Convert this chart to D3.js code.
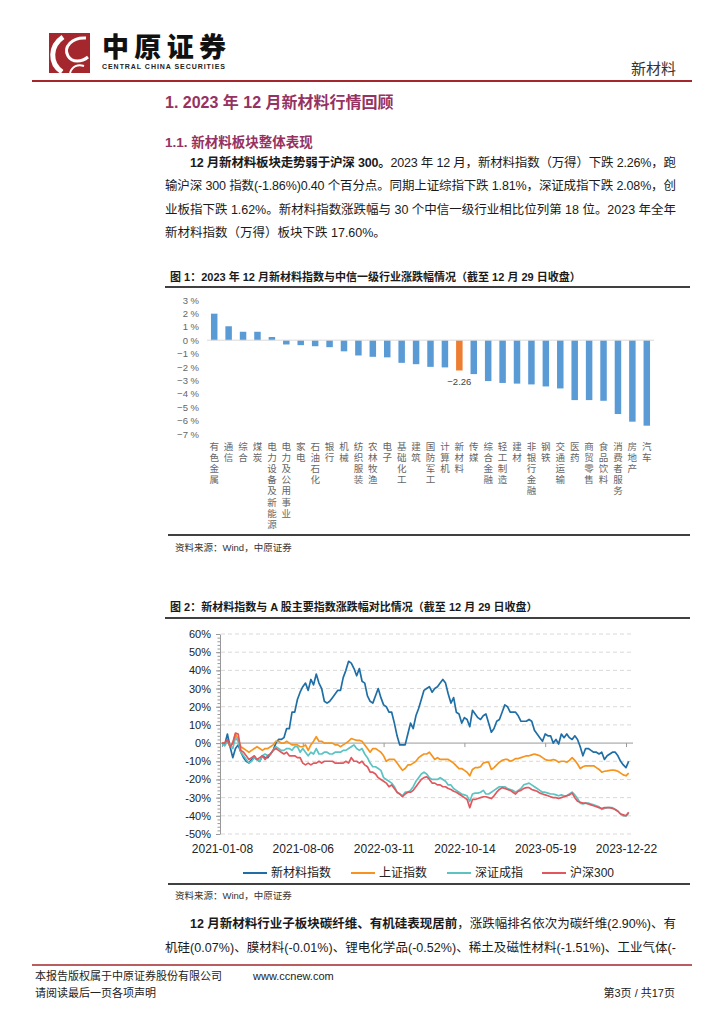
<!DOCTYPE html>
<html>
<head>
<meta charset="utf-8">
<script src="https://cdn.jsdelivr.net/npm/d3@7"></script>
<style>
  body { margin: 0; background: #fff; }
  svg { display: block; }
</style>
</head>
<body>
<svg id="page" width="724" height="1024"></svg>
<script>
// ---- figure 1 data: December change by CITIC level-1 industry (%)
const industries = ["有色金属","通信","综合","煤炭","电力设备及新能源","电力及公用事业","家电","石油石化","银行","机械",
  "纺织服装","农林牧渔","电子","基础化工","建筑","国防军工","计算机","新材料","传媒","综合金融",
  "轻工制造","建材","非银行金融","钢铁","交通运输","医药","商贸零售","食品饮料","消费者服务","房地产","汽车"];
const industryChg = [1.98,1.04,0.63,0.63,0.24,-0.32,-0.37,-0.45,-0.52,-0.83,
  -1.14,-1.24,-1.28,-1.69,-1.79,-1.99,-2.03,-2.26,-2.53,-3.05,
  -3.19,-3.24,-3.30,-3.45,-3.60,-4.47,-4.47,-4.52,-5.51,-6.08,-6.38];
const highlight = "新材料";
const barTicks = [3,2,1,0,-1,-2,-3,-4,-5,-6,-7];

// ---- figure 2 data: cumulative change since 2021-01-08, weekly (%)
const dateTicks = ["2021-01-08","2021-08-06","2022-03-11","2022-10-14","2023-05-19","2023-12-22"];
const dateTickIdx = [0,30,60,90,120,150];
const pctTicks = [60,50,40,30,20,10,0,-10,-20,-30,-40,-50];
const seriesNames = ["新材料指数","上证指数","深证成指","沪深300"];

const newMat = [0,-1,5,-2,-8,-3,-1,-5,-8,-10,
  -11,-9,-8,-9,-10,-7,-8,-8,-6,-4,
  0,2,2,3,8,8,17,17,24,28,
  31,33,29,35,32,38,33,30,23,22,
  23,25,27,29,29,36,40,45,44,41,
  37,41,34,33,26,23,22,26,30,25,
  21,20,17,17,11,4,-1,-1,-1,5,
  11,8,15,19,24,29,30,31,28,30,
  31,33,35,33,27,22,25,17,16,11,
  14,13,9,18,16,14,13,15,16,11,
  6,8,12,13,17,21,20,17,17,17,
  15,12,12,12,13,12,7,5,3,1,
  5,4,4,0,2,-0.5,5,3,5,3,
  2,4,2,-2,-7,-3,-3,-4,-5,-5,
  -6,-5,-9,-7,-6,-5,-5,-7,-10,-12,
  -13.5,-10];
const shComp = [0,0,1,-2,0,5,2,-2,-3,-4,
  -5,-4,-3,-2,-3,-4,-3,-3,-2,-1,
  1,1,0,0,1,0,-1,-1,-1,-2,
  -2,-1,-4,-1,1,3.5,1,1,0,0,
  0,0,-1,-1,-2,-1,0,1,2.5,2,
  1.5,1.5,1,-1,-3,-5,-3,-3,-4,-5,
  -7,-10,-9,-9,-9,-11,-13,-15,-14,-12,
  -12,-11,-10,-8,-7,-6,-6,-5,-7,-9,
  -8,-9,-9,-9,-9,-10,-11,-12.5,-14,-14,
  -15,-16,-18,-14.5,-13.5,-13.5,-13,-11,-10.5,-10.5,
  -14.5,-13.5,-12,-10.5,-9.5,-9,-9,-10,-9.5,-8.5,
  -8.5,-8,-7.5,-7,-7,-6.5,-6,-6.5,-7,-8,
  -9,-9.5,-9.5,-9,-9.5,-10.5,-10,-10,-10.5,-9.5,
  -8,-9.5,-11.5,-14,-13,-12.5,-12.5,-12.5,-12.5,-13.5,
  -14.5,-16,-15.5,-15.3,-15,-14.8,-15,-15.5,-16.5,-17.5,
  -18,-16.5];
const szComp = [0,-1.5,1,-1,-3,3,1,-5,-7,-9,
  -11,-10,-8,-9,-10,-7,-6,-7,-6,-4,
  -2,-3,-4,-4,-3,-3,-4,-2,-2,-5,
  -3,-5,-7,-5,-6,-3,-6,-6,-5,-5,
  -6,-6,-5,-5,-5,-4,-4,-3,-2,-1,
  -3,-4,-3,-6,-8,-11,-13,-13,-14,-15,
  -19,-20,-21,-22,-24,-27,-28,-29,-27,-27,
  -26,-24,-21,-19,-17,-16,-17,-19,-20,-20,
  -20,-19,-20,-21,-23,-23,-25,-26,-27,-28,
  -28.5,-29,-32,-28,-27.5,-27.5,-27,-26,-28,-28,
  -27,-26,-25,-24,-24,-24,-25,-25.5,-26,-27,
  -26,-25,-23,-22.5,-22,-23,-24,-25,-26,-27,
  -27,-27.5,-28,-28,-28.5,-29,-28.5,-29,-29,-28,
  -27,-28.5,-30.5,-33,-33.5,-33,-33,-33.5,-34,-34.5,
  -35,-36.5,-36,-35.5,-35.5,-35.5,-36.5,-37.5,-39,-40,
  -40,-38.5];
const hs300 = [0,0,2,-2,0,5.5,5,-4,-5,-7,
  -9,-8,-7,-9,-8,-7,-9,-7,-6,-4,
  -3,-4,-5,-6,-5,-7,-7,-7,-8,-8,
  -11,-12,-11,-12,-11,-11,-10,-11,-10,-10,
  -10,-10,-11,-11,-11,-11,-10,-11,-8,-10,
  -10,-11,-10,-12,-13,-16,-16,-17,-19,-20,
  -21,-22,-24,-23,-25,-27,-28,-29.5,-28,-27,
  -27,-26,-24,-22,-20,-19,-18.5,-20,-22,-22,
  -23,-23,-24,-24,-25,-25.5,-26.5,-27,-28,-29,
  -30,-31,-35.5,-31,-31,-30.5,-30,-29.5,-29.5,-30,
  -30.5,-29,-27,-25.5,-24.5,-25,-25.5,-26,-27,-28,
  -26.5,-26,-25,-24.5,-24.5,-25.5,-26,-26.5,-27.5,-28,
  -28.5,-29,-29.5,-30,-30,-30.5,-30,-29.5,-29,-28.5,
  -27.5,-30,-32,-32.5,-33,-33,-33.5,-34,-34.5,-35,
  -35.5,-36,-35.5,-35.5,-35.5,-36,-36.5,-37.5,-39,-39.5,
  -40,-38];

const seriesData = [newMat, shComp, szComp, hs300];
const seriesColors = ["#1f6fa6", "#f7941d", "#5cc3c3", "#e0585d"];

const svg = d3.select("#page");
const FONT = "'Liberation Sans', 'Noto Sans CJK SC', sans-serif";
const RED = "#a3272d";
const PURPLE = "#953262";

svg.append("rect").attr("width", 724).attr("height", 1024).attr("fill", "#fff");

function text(x, y, s, o) {
  o = o || {};
  const t = svg.append("text")
    .attr("x", x).attr("y", y)
    .attr("font-family", o.ff || FONT)
    .attr("font-size", o.fs || 12)
    .attr("fill", o.fill || "#1a1a1a")
    .attr("dominant-baseline", "central")
    .text(s);
  if (o.fw) t.attr("font-weight", o.fw);
  if (o.anchor) t.attr("text-anchor", o.anchor);
  if (o.len) t.attr("textLength", o.len).attr("lengthAdjust", "spacing");
  return t;
}

// line of body text, parts = [[string, bold], ...]
function richLine(x, y, parts, len) {
  const t = svg.append("text")
    .attr("x", x).attr("y", y)
    .attr("font-family", FONT).attr("font-size", 12.5)
    .attr("fill", "#1a1a1a").attr("dominant-baseline", "central");
  parts.forEach(p => {
    t.append("tspan").attr("font-weight", p[1] ? "bold" : "normal").text(p[0]);
  });
  if (len) t.attr("textLength", len).attr("lengthAdjust", "spacing");
}

function hline(x1, x2, y, color, w) {
  svg.append("line").attr("x1", x1).attr("x2", x2).attr("y1", y).attr("y2", y)
    .attr("stroke", color).attr("stroke-width", w);
}

// ---- header
svg.append("rect").attr("x", 49).attr("y", 33).attr("width", 41).attr("height", 40).attr("fill", RED);
svg.append("path").attr("d", "M63,37 C50,46 49,63 62,72").attr("fill", "none").attr("stroke", "#fff").attr("stroke-width", 5);
svg.append("path").attr("d", "M86,38 C72,37 63,47 68,56 C72,63 82,62 88,57").attr("fill", "none").attr("stroke", "#fff").attr("stroke-width", 3);
svg.append("path").attr("d", "M70,73 C72,66 78,64 84,66").attr("fill", "none").attr("stroke", "#fff").attr("stroke-width", 2);
text(102, 48, "中原证券", {fs: 27, fw: 900, fill: "#111", len: 124});
text(102, 66, "CENTRAL CHINA SECURITIES", {fs: 7, fw: "bold", fill: "#222", len: 123});
text(676, 68, "新材料", {fs: 15, fill: "#333", anchor: "end"});
hline(32, 692, 81, RED, 2);

// ---- headings and first paragraph
text(165, 102, "1. 2023 年 12 月新材料行情回顾", {fs: 16, fw: "bold", fill: PURPLE});
text(165, 142, "1.1. 新材料板块整体表现", {fs: 13.5, fw: "bold", fill: PURPLE});
richLine(190, 163, [["12 月新材料板块走势弱于沪深 300。", true], ["2023 年 12 月，新材料指数（万得）下跌 2.26%，跑", false]], 486);
richLine(165, 186, [["输沪深 300 指数(-1.86%)0.40 个百分点。同期上证综指下跌 1.81%，深证成指下跌 2.08%，创", false]], 511);
richLine(165, 210, [["业板指下跌 1.62%。新材料指数涨跌幅与 30 个中信一级行业相比位列第 18 位。2023 年全年", false]], 511);
richLine(165, 233, [["新材料指数（万得）板块下跌 17.60%。", false]]);

// ---- figure 1: bars
text(170, 277, "图 1：2023 年 12 月新材料指数与中信一级行业涨跌幅情况（截至 12 月 29 日收盘）", {fs: 11, fw: "bold"});
hline(165, 690, 287, "#000", 1.5);

const xB = d3.scaleBand().domain(industries).range([207, 654]).paddingInner(0.55).paddingOuter(0.275);
const yB = d3.scaleLinear().domain([-7, 3]).range([434, 300]);

const gB = svg.append("g");
gB.selectAll("text.ytick").data(barTicks).enter().append("text")
  .attr("class", "ytick")
  .attr("x", 199).attr("y", d => yB(d))
  .attr("text-anchor", "end").attr("dominant-baseline", "central")
  .attr("font-family", FONT).attr("font-size", 9.5).attr("fill", "#666")
  .text(d => (d < 0 ? "−" + Math.abs(d) : d) + " %");

gB.selectAll("rect.bar").data(industries).enter().append("rect")
  .attr("class", "bar")
  .attr("x", d => xB(d))
  .attr("width", xB.bandwidth())
  .attr("y", (d, i) => yB(Math.max(0, industryChg[i])))
  .attr("height", (d, i) => Math.abs(yB(industryChg[i]) - yB(0)))
  .attr("fill", d => d === highlight ? "#ed7d31" : "#5b9bd5");

gB.append("line").attr("x1", 207).attr("x2", 654).attr("y1", yB(0)).attr("y2", yB(0))
  .attr("stroke", "#d9d9d9").attr("stroke-width", 1);

const hi = industries.indexOf(highlight);
gB.append("text")
  .attr("x", xB(highlight) + xB.bandwidth() / 2).attr("y", yB(industryChg[hi]) + 11)
  .attr("text-anchor", "middle").attr("dominant-baseline", "central")
  .attr("font-family", FONT).attr("font-size", 9.5).attr("fill", "#444")
  .text("−" + Math.abs(industryChg[hi]).toFixed(2));

// vertical category labels, one character per row
industries.forEach(name => {
  const cx = xB(name) + xB.bandwidth() / 2;
  Array.from(name).forEach((ch, k) => {
    gB.append("text")
      .attr("x", cx).attr("y", 446 + k * 11.2)
      .attr("text-anchor", "middle").attr("dominant-baseline", "central")
      .attr("font-family", FONT).attr("font-size", 9.5).attr("fill", "#666")
      .text(ch);
  });
});

hline(168, 690, 535, "#000", 1.5);
text(175, 547, "资料来源：Wind，中原证券", {fs: 9.5, fill: "#333"});

// ---- figure 2: lines
text(170, 607, "图 2：新材料指数与 A 股主要指数涨跌幅对比情况（截至 12 月 29 日收盘）", {fs: 11, fw: "bold"});
hline(165, 690, 618, "#000", 1.5);

const xL = d3.scaleLinear().domain([0, 150]).range([222, 626]);
const yL = d3.scaleLinear().domain([-50, 60]).range([834, 634]);
const gL = svg.append("g");

gL.selectAll("line.grid").data(pctTicks.filter(d => d !== 0)).enter().append("line")
  .attr("class", "grid")
  .attr("x1", 221).attr("x2", 633).attr("y1", d => yL(d)).attr("y2", d => yL(d))
  .attr("stroke", "#d9d9d9").attr("stroke-width", 1).attr("stroke-dasharray", "4,3");

// minor ticks
gL.append("g").attr("transform", "translate(220,0)")
  .call(d3.axisLeft(yL).tickValues(d3.range(-50, 61, 2)).tickSize(2.5).tickFormat(""))
  .call(g => g.select(".domain").remove())
  .call(g => g.selectAll("line").attr("stroke", "#999"));

gL.append("g").attr("transform", "translate(220,0)")
  .call(d3.axisLeft(yL).tickValues(pctTicks).tickSize(4).tickSizeOuter(0).tickFormat(d => d + "%"))
  .call(g => g.select(".domain").attr("stroke", "#999"))
  .call(g => g.selectAll("line").attr("stroke", "#999"))
  .call(g => g.selectAll("text").attr("font-family", FONT).attr("font-size", 11).attr("fill", "#222").attr("x", -9));

gL.append("g").attr("transform", "translate(0," + yL(0) + ")")
  .call(d3.axisBottom(xL).tickValues(dateTickIdx).tickSize(4).tickSizeOuter(0).tickFormat(""))
  .call(g => g.select(".domain").attr("d", "M220,0H633").attr("stroke", "#999"))
  .call(g => g.selectAll("line").attr("stroke", "#999"));

gL.append("g").attr("transform", "translate(0,849)")
  .call(d3.axisBottom(xL).tickValues(dateTickIdx).tickSize(0).tickFormat((d, i) => dateTicks[i]))
  .call(g => g.select(".domain").remove())
  .call(g => g.selectAll("text").attr("font-family", FONT).attr("font-size", 12).attr("fill", "#222")
    .attr("y", 0).attr("dy", null).attr("dominant-baseline", "central"));

const line = d3.line().x((d, i) => xL(i)).y(d => yL(d));
seriesData.forEach((s, k) => {
  gL.append("path").datum(s)
    .attr("d", line)
    .attr("fill", "none")
    .attr("stroke", seriesColors[k])
    .attr("stroke-width", 1.7)
    .attr("stroke-linejoin", "round");
});

// legend
const legendX = [243, 351, 447, 542];
seriesNames.forEach((n, k) => {
  gL.append("line").attr("x1", legendX[k]).attr("x2", legendX[k] + 24)
    .attr("y1", 873).attr("y2", 873)
    .attr("stroke", seriesColors[k]).attr("stroke-width", 2);
  gL.append("text").attr("x", legendX[k] + 28).attr("y", 873)
    .attr("dominant-baseline", "central")
    .attr("font-family", FONT).attr("font-size", 12).attr("fill", "#222")
    .text(n);
});

hline(168, 690, 884, "#000", 1.5);
text(175, 895, "资料来源：Wind，中原证券", {fs: 9.5, fill: "#333"});

// ---- second paragraph
richLine(190, 924, [["12 月新材料行业子板块碳纤维、有机硅表现居前", true], ["，涨跌幅排名依次为碳纤维(2.90%)、有", false]], 486);
richLine(165, 948, [["机硅(0.07%)、膜材料(-0.01%)、锂电化学品(-0.52%)、稀土及磁性材料(-1.51%)、工业气体(-", false]], 511);

// ---- footer
hline(32, 692, 965, RED, 1.5);
text(35, 976, "本报告版权属于中原证券股份有限公司", {fs: 11, fill: "#222"});
text(253, 976, "www.ccnew.com", {fs: 11, fill: "#222"});
text(35, 993, "请阅读最后一页各项声明", {fs: 11, fill: "#222"});
text(675, 993, "第3页 / 共17页", {fs: 11, fill: "#222", anchor: "end"});
</script>
</body>
</html>
